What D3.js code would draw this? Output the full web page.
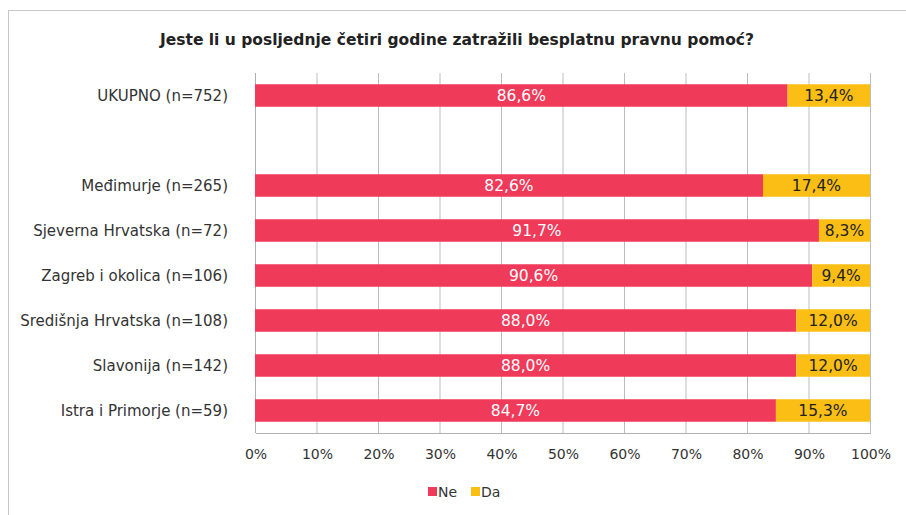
<!DOCTYPE html>
<html>
<head>
<meta charset="utf-8">
<script src="https://cdn.jsdelivr.net/npm/d3@7/dist/d3.min.js"></script>
<style>
  html, body { margin: 0; padding: 0; background: #fff; }
  svg text { font-family: "DejaVu Sans", sans-serif; }
</style>
</head>
<body>
<svg id="chart" width="906" height="515"></svg>
<script>
// Survey categories (empty string = spacer row under the total)
const categories = [
  "UKUPNO (n=752)",
  "",
  "Međimurje (n=265)",
  "Sjeverna Hrvatska (n=72)",
  "Zagreb i okolica (n=106)",
  "Središnja Hrvatska (n=108)",
  "Slavonija (n=142)",
  "Istra i Primorje (n=59)"
];
const neValues = [86.6, null, 82.6, 91.7, 90.6, 88.0, 88.0, 84.7];
const daValues = [13.4, null, 17.4, 8.3, 9.4, 12.0, 12.0, 15.3];
const seriesNames = ["Ne", "Da"];
const seriesColors = ["#EF3A5A", "#FBBE15"];
const tickValues = [0, 10, 20, 30, 40, 50, 60, 70, 80, 90, 100];
const title = "Jeste li u posljednje četiri godine zatražili besplatnu pravnu pomoć?";

const svg = d3.select("#chart");
const fmt = v => v.toFixed(1).replace(".", ",") + "%";

// outer frame
svg.append("rect")
  .attr("x", 8.5).attr("y", 10.5)
  .attr("width", 906).attr("height", 520)
  .attr("fill", "none").attr("stroke", "#c8c8c8").attr("stroke-width", 1);

svg.append("text")
  .attr("x", 457).attr("y", 45)
  .attr("text-anchor", "middle")
  .attr("font-size", 15.5).attr("font-weight", "bold").attr("fill", "#222")
  .text(title);

const margin = { left: 255, right: 870, top: 73, bottom: 433 };
const x = d3.scaleLinear().domain([0, 100]).range([margin.left, margin.right]);
const y = d3.scaleBand().domain(categories.map((c, i) => i)).range([margin.top, margin.bottom]).paddingInner(0.5).paddingOuter(0.25);

// gridlines
svg.append("g").selectAll("line").data(tickValues).join("line")
  .attr("x1", d => x(d) + 0.5).attr("x2", d => x(d) + 0.5)
  .attr("y1", margin.top).attr("y2", margin.bottom)
  .attr("stroke", d => d === 0 ? "#b0b0b0" : "#bdbdbd").attr("stroke-width", 1);

// bottom axis
const axis = d3.axisBottom(x).tickValues(tickValues).tickFormat(d => d + "%").tickSize(0).tickPadding(16);
const ag = svg.append("g").attr("transform", `translate(0.5,${margin.bottom})`).call(axis);
ag.select(".domain").attr("stroke", "#b0b0b0");
ag.selectAll("text").attr("font-size", 14).attr("fill", "#333").attr("font-family", "DejaVu Sans, sans-serif");

// category labels
svg.append("g").selectAll("text").data(categories.map((c, i) => ({ c, i })).filter(d => d.c)).join("text")
  .attr("x", 228).attr("y", d => y(d.i) + y.bandwidth() / 2)
  .attr("text-anchor", "end").attr("dominant-baseline", "central")
  .attr("font-size", 15).attr("fill", "#333")
  .text(d => d.c);

// stacked bars
const rows = categories.map((c, i) => ({ i, ne: neValues[i], da: daValues[i] })).filter(d => d.ne != null);
const bh = y.bandwidth();

const g = svg.append("g");
rows.forEach(r => {
  const yy = y(r.i);
  g.append("rect").attr("x", x(0)).attr("y", yy).attr("width", x(r.ne) - x(0)).attr("height", bh).attr("fill", seriesColors[0]);
  g.append("rect").attr("x", x(r.ne)).attr("y", yy).attr("width", x(r.ne + r.da) - x(r.ne)).attr("height", bh).attr("fill", seriesColors[1]);
  g.append("text").attr("x", (x(0) + x(r.ne)) / 2).attr("y", yy + bh / 2)
    .attr("text-anchor", "middle").attr("dominant-baseline", "central")
    .attr("font-size", 15.5).attr("fill", "#fff").text(fmt(r.ne));
  g.append("text").attr("x", (x(r.ne) + x(r.ne + r.da)) / 2).attr("y", yy + bh / 2)
    .attr("text-anchor", "middle").attr("dominant-baseline", "central")
    .attr("font-size", 15.5).attr("fill", "#222").text(fmt(r.da));
});

// legend
const legend = svg.append("g");
const lx = [428, 471];
seriesNames.forEach((s, k) => {
  legend.append("rect").attr("x", lx[k]).attr("y", 487).attr("width", 9).attr("height", 9).attr("fill", seriesColors[k]);
  legend.append("text").attr("x", lx[k] + 10).attr("y", 492).attr("dominant-baseline", "central")
    .attr("font-size", 14).attr("fill", "#333").text(s);
});
</script>
</body>
</html>
